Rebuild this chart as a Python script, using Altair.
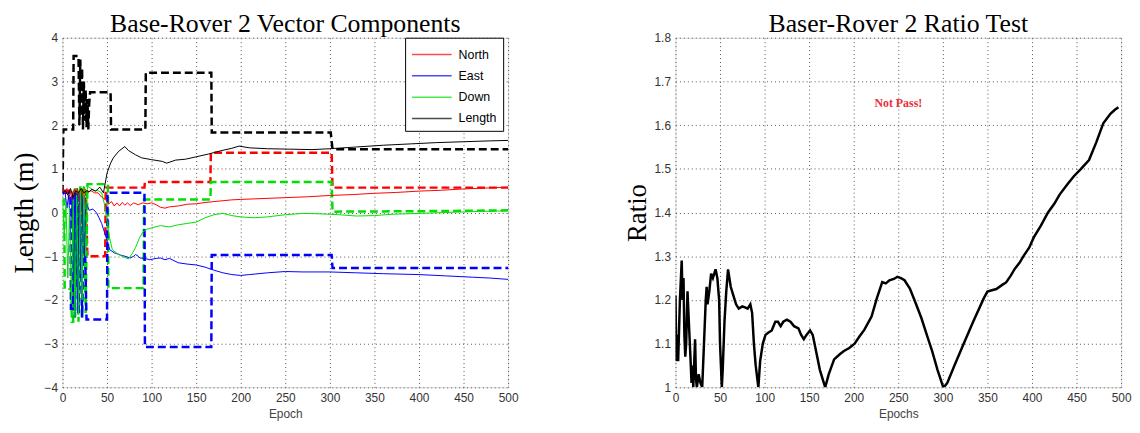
import altair as alt
import pandas as pd

# ---------------- Left chart: solid component lines ----------------
north_ep = [0, 3, 5, 7, 9, 11, 13, 15, 17, 19, 21, 23, 25, 28, 32, 36, 40, 44, 48, 52, 55, 58, 61, 64, 67, 70, 73, 76, 80, 85, 90, 95, 100, 105, 110, 115, 120, 130, 140, 150, 160, 170, 180, 190, 200, 225, 250, 275, 300, 325, 350, 375, 400, 425, 450, 475, 500]
north_val = [0.5, 0.45, 0.55, 0.3, 0.5, 0.2, 0.5, 0.35, 0.55, 0.3, 0.5, 0.4, 0.55, 0.45, 0.5, 0.45, 0.45, 0.35, 0.3, 0.2, 0.25, 0.15, 0.22, 0.15, 0.23, 0.17, 0.22, 0.16, 0.22, 0.18, 0.22, 0.2, 0.22, 0.18, 0.12, 0.1, 0.13, 0.15, 0.19, 0.2, 0.23, 0.25, 0.27, 0.29, 0.3, 0.32, 0.34, 0.36, 0.39, 0.41, 0.44, 0.46, 0.49, 0.51, 0.54, 0.56, 0.58]

east_ep = [0, 3, 5, 7, 9, 11, 13, 15, 17, 19, 21, 23, 25, 27, 30, 34, 38, 41, 44, 46, 48, 50, 53, 58, 62, 66, 70, 76, 80, 82, 85, 87, 92, 98, 105, 110, 115, 120, 130, 140, 150, 160, 170, 180, 190, 200, 210, 230, 250, 270, 300, 330, 360, 400, 430, 460, 480, 500]
east_val = [0.4, 0.45, 0.1, 0.4, -0.5, 0.4, -1.5, 0.45, -2.0, 0.4, -1.5, 0.3, -1.0, 0.2, 0.05, 0.08, 0.0, -0.12, -0.25, -0.38, -0.5, -0.65, -0.85, -0.92, -0.95, -0.98, -1.0, -1.04, -1.0, -0.96, -1.0, -1.04, -1.05, -1.08, -1.05, -1.04, -1.08, -1.05, -1.15, -1.18, -1.2, -1.25, -1.32, -1.38, -1.42, -1.44, -1.42, -1.38, -1.35, -1.36, -1.36, -1.38, -1.4, -1.42, -1.45, -1.48, -1.5, -1.53]

down_ep = [0, 2, 4, 6, 8, 10, 12, 14, 16, 18, 20, 22, 24, 26, 28, 32, 36, 40, 44, 47, 50, 53, 56, 60, 65, 70, 74, 78, 82, 86, 90, 95, 100, 110, 120, 130, 140, 150, 160, 170, 180, 190, 200, 215, 230, 250, 270, 290, 310, 330, 350, 370, 400, 430, 460, 500]
down_val = [0.3, -0.5, 0.2, -1.5, 0.1, -2.0, 0.3, -2.4, 0.4, -2.3, 0.5, -2.0, 0.6, -1.0, 0.6, 0.55, 0.5, 0.5, 0.45, 0.2, -0.2, -0.6, -0.85, -0.92, -0.98, -1.03, -1.06, -0.95, -0.8, -0.6, -0.45, -0.38, -0.35, -0.3, -0.33, -0.28, -0.25, -0.22, -0.12, -0.05, -0.02, -0.07, -0.1, -0.12, -0.1, -0.05, -0.02, -0.03, -0.05, -0.08, -0.07, -0.04, -0.02, 0.0, 0.02, 0.04]

length_ep = [0, 3, 6, 9, 12, 15, 18, 21, 24, 27, 30, 33, 37, 42, 46, 50, 54, 57, 63, 70, 74, 82, 89, 100, 112, 117, 127, 138, 149, 164, 177, 190, 198, 210, 230, 255, 280, 300, 330, 360, 390, 420, 450, 480, 500]
length_val = [0.45, 0.5, 0.4, 0.55, 0.35, 0.5, 0.45, 0.55, 0.45, 0.5, 0.48, 0.53, 0.49, 0.58, 0.45, 0.9, 1.13, 1.25, 1.4, 1.51, 1.42, 1.32, 1.25, 1.21, 1.17, 1.13, 1.2, 1.22, 1.27, 1.34, 1.41, 1.47, 1.52, 1.48, 1.46, 1.45, 1.44, 1.46, 1.5, 1.54, 1.57, 1.6, 1.62, 1.64, 1.65]

# ---------------- Left chart: dashed step lines ----------------
north_step_ep = [0, 12, 12.5, 14, 16, 18, 20, 22, 24, 26, 28, 48, 48.5, 92, 92.5, 166, 166.5, 302, 303, 500]
north_step_val = [0.5, 0.5, -0.2, 0.55, -0.9, 0.5, -0.6, 0.55, -1.0, 0.5, -1.0, -1.0, 0.57, 0.57, 0.7, 0.7, 1.37, 1.37, 0.57, 0.57]

east_step_ep = [0, 9, 9.5, 12, 12.5, 14, 16, 18, 20, 22, 24, 27, 50, 50.5, 92, 92.5, 167, 167.5, 302, 303, 500]
east_step_val = [0.45, 0.45, -2.2, -2.2, 0.4, -2.4, 0.45, -2.3, 0.45, -2.4, 0.4, -2.45, -2.45, 0.45, 0.45, -3.08, -3.08, -0.97, -0.97, -1.27, -1.27]

down_step_ep = [0, 2, 2.5, 10, 10.5, 12, 12.5, 14, 16, 18, 20, 22, 24, 26, 28, 51, 51.5, 91, 91.5, 166, 166.5, 302, 303, 400, 500]
down_step_val = [0.3, 0.3, -1.75, -1.75, -2.5, -2.5, 0.5, -2.4, 0.6, -2.5, 0.6, -2.4, 0.6, -2.3, 0.65, 0.65, -1.73, -1.73, 0.3, 0.3, 0.7, 0.7, 0.02, 0.03, 0.05]

length_step_ep = [0, 1, 12, 12.5, 18, 19, 20, 21, 22, 23, 24, 25, 26, 27, 28, 29, 30, 31, 54, 54.5, 93, 93.5, 167, 167.5, 301, 303, 500]
length_step_val = [0.45, 1.9, 1.9, 3.58, 3.58, 2.0, 3.5, 2.2, 3.3, 1.9, 3.0, 2.1, 2.8, 1.95, 2.6, 1.9, 2.5, 2.75, 2.75, 1.9, 1.9, 3.2, 3.2, 1.83, 1.83, 1.45, 1.45]

series_names = ["North", "East", "Down", "Length"]
series_colors = ["#ff0000", "#0000ff", "#00e000", "#000000"]

# ---------------- Right chart: ratio test ----------------
ratio_ep = [0, 1, 2, 3, 5, 7, 8, 9, 10, 11, 12, 13.5, 15, 17, 18, 19, 20, 22, 23, 24, 26, 28, 30, 32, 34, 35, 36, 38, 40, 42, 45, 47, 49, 50, 51, 52, 53, 55, 57, 59, 62, 65, 68, 71, 75, 78, 81, 84, 86, 88, 90, 93, 95, 98, 101, 104, 108, 112, 115, 118, 121, 125, 129, 133, 138, 141, 144, 147, 151, 154, 158, 162, 168, 172, 178, 184, 189, 195, 201, 206, 212, 220, 226, 232, 236, 240, 245, 249, 253, 257, 263, 270, 276, 282, 288, 294, 300.5, 303, 305, 313, 323, 334, 346, 350, 355, 360, 367, 371, 376, 381, 386, 391, 397, 402, 410, 418, 425, 431, 440, 447, 455, 464, 472, 480, 488, 493, 497]
ratio_val = [1.21, 1.06, 1.12, 1.06, 1.2, 1.29, 1.2, 1.25, 1.12, 1.07, 1.1, 1.22, 1.15, 1.06, 1.01, 1.05, 1.0, 1.11, 1.02, 1.0, 1.03, 1.01, 1.0, 1.1, 1.2, 1.23, 1.19, 1.22, 1.26, 1.25, 1.27, 1.25, 1.2, 1.1, 1.05, 1.0, 1.04, 1.15, 1.22, 1.27, 1.23, 1.21, 1.19, 1.18, 1.185, 1.183, 1.18, 1.19, 1.17, 1.1, 1.05, 1.0, 1.06, 1.1, 1.12, 1.125, 1.13, 1.15, 1.15, 1.14, 1.15, 1.155, 1.15, 1.14, 1.135, 1.12, 1.11, 1.12, 1.13, 1.12, 1.08, 1.04, 1.0, 1.03, 1.064, 1.075, 1.083, 1.09, 1.1, 1.115, 1.132, 1.162, 1.204, 1.241, 1.238, 1.245, 1.248, 1.253, 1.25, 1.245, 1.226, 1.19, 1.158, 1.12, 1.083, 1.04, 1.0, 1.005, 1.01, 1.05, 1.098, 1.15, 1.204, 1.219, 1.222, 1.225, 1.235, 1.24, 1.255, 1.272, 1.285, 1.302, 1.32, 1.343, 1.37, 1.4, 1.42, 1.441, 1.465, 1.483, 1.5, 1.52, 1.56, 1.604, 1.626, 1.635, 1.641]

note_text = ["Not Pass!"]
note_ep = [250]
note_val = [1.65]

x_ticks = list(range(0, 501, 50))
left_y_ticks = [-4, -3, -2, -1, 0, 1, 2, 3, 4]
right_y_ticks = [1.0, 1.1, 1.2, 1.3, 1.4, 1.5, 1.6, 1.7, 1.8]

# ---------------- Build tables ----------------
solid_rows = []
for name, eps, vals in [("North", north_ep, north_val), ("East", east_ep, east_val),
                        ("Down", down_ep, down_val), ("Length", length_ep, length_val)]:
    for i, (e, v) in enumerate(zip(eps, vals)):
        solid_rows.append({"epoch": e, "value": v, "series": name, "idx": i})
solid_df = pd.DataFrame(solid_rows)

color_map = dict(zip(series_names, series_colors))
dash_rows = []
for name, eps, vals in [("Length", length_step_ep, length_step_val), ("North", north_step_ep, north_step_val),
                        ("Down", down_step_ep, down_step_val), ("East", east_step_ep, east_step_val)]:
    for i, (e, v) in enumerate(zip(eps, vals)):
        dash_rows.append({"epoch": e, "value": v, "series": name, "col": color_map[name], "idx": i})
dash_df = pd.DataFrame(dash_rows)

ratio_df = pd.DataFrame({"epoch": ratio_ep, "ratio": ratio_val, "idx": list(range(len(ratio_ep)))})
note_df = pd.DataFrame({"epoch": note_ep, "ratio": note_val, "text": note_text})

W, H = 450, 353
SANS = "Liberation Sans"
SERIF = "Liberation Serif"

def x_axis(title):
    return alt.Axis(values=x_ticks, title=title, labelFont=SANS, labelFontSize=12, labelColor="#333",
                    titleFont=SANS, titleFontSize=12, titleFontWeight="normal", titleColor="#444",
                    titlePadding=5, labelPadding=5, ticks=False, domain=False,
                    grid=True, gridDash=[1, 3], gridColor="#555", gridWidth=1, labelFlush=False)

def y_axis(title, vals, fmt):
    return alt.Axis(values=vals, title=title, format=fmt, labelFont=SANS, labelFontSize=12, labelColor="#333",
                    titleFont=SERIF, titleFontSize=27, titleFontWeight="normal", titleColor="#000",
                    titlePadding=4, labelPadding=5, minExtent=20, maxExtent=20, ticks=False, domain=False,
                    grid=True, gridDash=[1, 3], gridColor="#555", gridWidth=1, labelFlush=False)

xs = alt.Scale(domain=[0, 500], nice=False)
ys_left = alt.Scale(domain=[-4, 4], nice=False)
ys_right = alt.Scale(domain=[1, 1.8], nice=False)

dashed = alt.Chart(dash_df).mark_line(strokeWidth=2.5, strokeDash=[8, 4], clip=True).encode(
    x=alt.X("epoch:Q", scale=xs, axis=x_axis("Epoch")),
    y=alt.Y("value:Q", scale=ys_left, axis=y_axis("Length (m)", left_y_ticks, "d")),
    color=alt.Color("col:N", scale=None),
    detail="series:N",
    order="idx:Q",
)

solid = alt.Chart(solid_df).mark_line(strokeWidth=1, clip=True).encode(
    x=alt.X("epoch:Q", scale=xs),
    y=alt.Y("value:Q", scale=ys_left),
    color=alt.Color("series:N", scale=alt.Scale(domain=series_names, range=series_colors),
                    legend=alt.Legend(title=None, orient="none", legendX=346, legendY=0,
                                      strokeColor="#000", fillColor="#fff", padding=6,
                                      symbolType="M-2,0H2", symbolSize=400, symbolStrokeWidth=1.5,
                                      symbolOffset=10,
                                      labelFont=SANS, labelFontSize=12.5, labelColor="#000",
                                      labelOffset=16, rowPadding=3.5, symbolOpacity=0.7)),
    order="idx:Q",
)

left = alt.layer(dashed, solid).properties(
    width=W, height=H,
    title=alt.TitleParams("Base-Rover 2 Vector Components", font=SERIF, fontSize=26,
                          fontWeight="normal", color="#000", offset=-5, anchor="middle"),
)

ratio_line = alt.Chart(ratio_df).mark_line(strokeWidth=2.5, color="#000", clip=True).encode(
    x=alt.X("epoch:Q", scale=xs, axis=x_axis("Epochs")),
    y=alt.Y("ratio:Q", scale=ys_right, axis=y_axis("Ratio", right_y_ticks, "~g")),
    order="idx:Q",
)
note = alt.Chart(note_df).mark_text(font=SERIF, fontSize=12, fontWeight="bold", color="#e8303a").encode(
    x=alt.X("epoch:Q", scale=xs),
    y=alt.Y("ratio:Q", scale=ys_right),
    text="text:N",
)
right = alt.layer(ratio_line, note).properties(
    width=W, height=H,
    title=alt.TitleParams("Baser-Rover 2 Ratio Test", font=SERIF, fontSize=26,
                          fontWeight="normal", color="#000", offset=-5, anchor="middle"),
)

chart = alt.hconcat(left, right, spacing=105).properties(
    padding={"left": 2, "top": 0, "right": 0, "bottom": 0}
).configure_view(stroke="#444", strokeWidth=1).configure(background="#ffffff")

chart.save("out.html", embed_options={"renderer": "svg", "actions": False})
